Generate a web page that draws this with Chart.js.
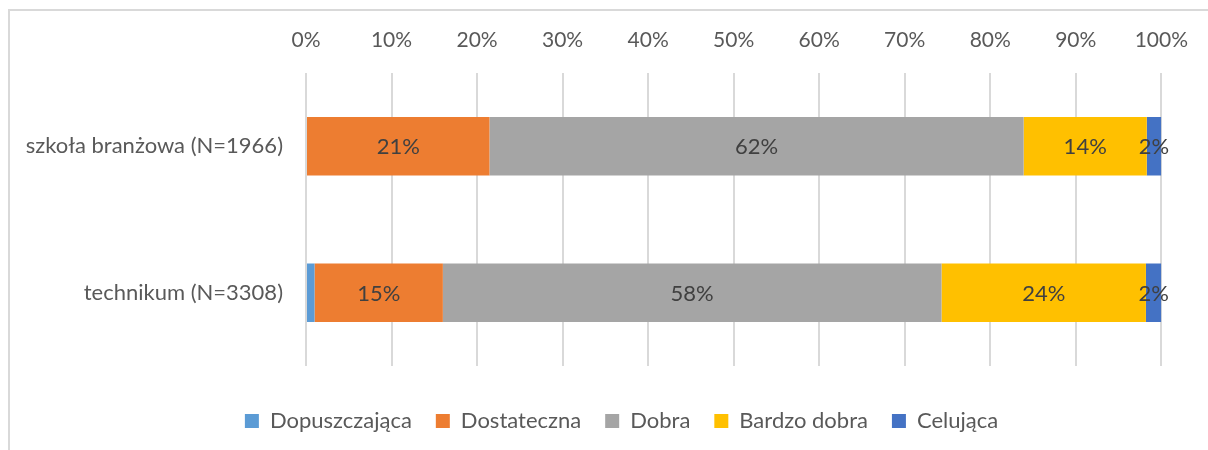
<!DOCTYPE html>
<html>
<head>
<meta charset="utf-8">
<script src="https://cdn.jsdelivr.net/npm/chart.js@4.4.1/dist/chart.umd.min.js"></script>
<style>
  html, body { margin: 0; padding: 0; background: #fff; overflow: hidden; }
  #frame {
    position: absolute; left: 8px; top: 9px; width: 1400px; height: 600px;
    border-left: 2px solid #d9d9d9; border-top: 2px solid #d9d9d9;
  }
  #wykres { position: absolute; left: 0; top: 0; }
</style>
</head>
<body>
<div id="frame"></div>
<canvas id="wykres" width="1208" height="450"></canvas>
<script>
// Typy szkół (kategorie na osi Y)
const szkoly = ['szkoła branżowa (N=1966)', 'technikum (N=3308)'];

// Udział ocen w procentach, kolejno: szkoła branżowa, technikum
const dopuszczajaca = [0, 1.0];
const dostateczna = [21.45, 15.0];
const dobra = [62.45, 58.3];
const bardzoDobra = [14.4, 23.9];
const celujaca = [1.7, 1.8];

const osX = [0, 10, 20, 30, 40, 50, 60, 70, 80, 90, 100];

const czcionka = 'Lato, "Open Sans", sans-serif';
const szary = '#595959';

// Plugin rysujący etykiety z wartością na środku każdego segmentu
const etykiety = {
    id: 'etykiety',
    afterDatasetsDraw(chart) {
        const ctx = chart.ctx;
        ctx.save();
        ctx.font = '22px ' + czcionka;
        ctx.fillStyle = '#404040';
        ctx.textAlign = 'center';
        ctx.textBaseline = 'middle';
        chart.data.datasets.forEach((ds, i) => {
            if (ds.bezEtykiet) return;
            const meta = chart.getDatasetMeta(i);
            meta.data.forEach((bar, j) => {
                const v = ds.data[j];
                if (!v) return;
                const p = bar.getProps(['x', 'y', 'base'], true);
                ctx.fillText(Math.round(v) + '%', (p.x + p.base) / 2, p.y + 1);
            });
        });
        ctx.restore();
    }
};

// Legenda niżej i przesunięta w prawo, bez zmiany obszaru wykresu
const przesunLegende = {
    id: 'przesunLegende',
    afterLayout(chart) {
        chart.legend.top += 20;
        chart.legend.bottom += 20;
        chart.legend.left += 76;
    }
};

const ctx = document.getElementById('wykres');

new Chart(ctx, {
    type: 'bar',
    data: {
        labels: szkoly,
        datasets: [
            { label: 'Dopuszczająca', data: dopuszczajaca, backgroundColor: '#5B9BD5', bezEtykiet: true },
            { label: 'Dostateczna', data: dostateczna, backgroundColor: '#ED7D31' },
            { label: 'Dobra', data: dobra, backgroundColor: '#A5A5A5' },
            { label: 'Bardzo dobra', data: bardzoDobra, backgroundColor: '#FFC000' },
            { label: 'Celująca', data: celujaca, backgroundColor: '#4472C4' }
        ]
    },
    options: {
        indexAxis: 'y',
        responsive: false,
        animation: false,
        devicePixelRatio: 1,
        datasets: {
            bar: { categoryPercentage: 1, barPercentage: 0.4 }
        },
        layout: {
            padding: { left: 0, right: 41, top: 0, bottom: 28 }
        },
        scales: {
            x: {
                position: 'top',
                stacked: true,
                min: 0,
                max: 100,
                afterBuildTicks: (scale) => { scale.ticks = osX.map(v => ({ value: v })); },
                afterFit: (scale) => { scale.height = 73; },
                grid: { color: '#d9d9d9', lineWidth: 2, drawTicks: false },
                border: { display: false },
                ticks: {
                    padding: 20,
                    color: szary,
                    font: { family: czcionka, size: 21 },
                    callback: (v) => v + '%'
                }
            },
            y: {
                stacked: true,
                afterFit: (scale) => { scale.width = 306; },
                grid: { display: false },
                border: { display: false },
                ticks: {
                    padding: 15,
                    color: szary,
                    font: { family: czcionka, size: 22 }
                }
            }
        },
        plugins: {
            legend: {
                position: 'bottom',
                labels: {
                    color: szary,
                    font: { family: czcionka, size: 22 },
                    boxWidth: 14,
                    boxHeight: 14,
                    padding: 24
                }
            },
            tooltip: { enabled: false }
        }
    },
    plugins: [etykiety, przesunLegende]
});
</script>
</body>
</html>
